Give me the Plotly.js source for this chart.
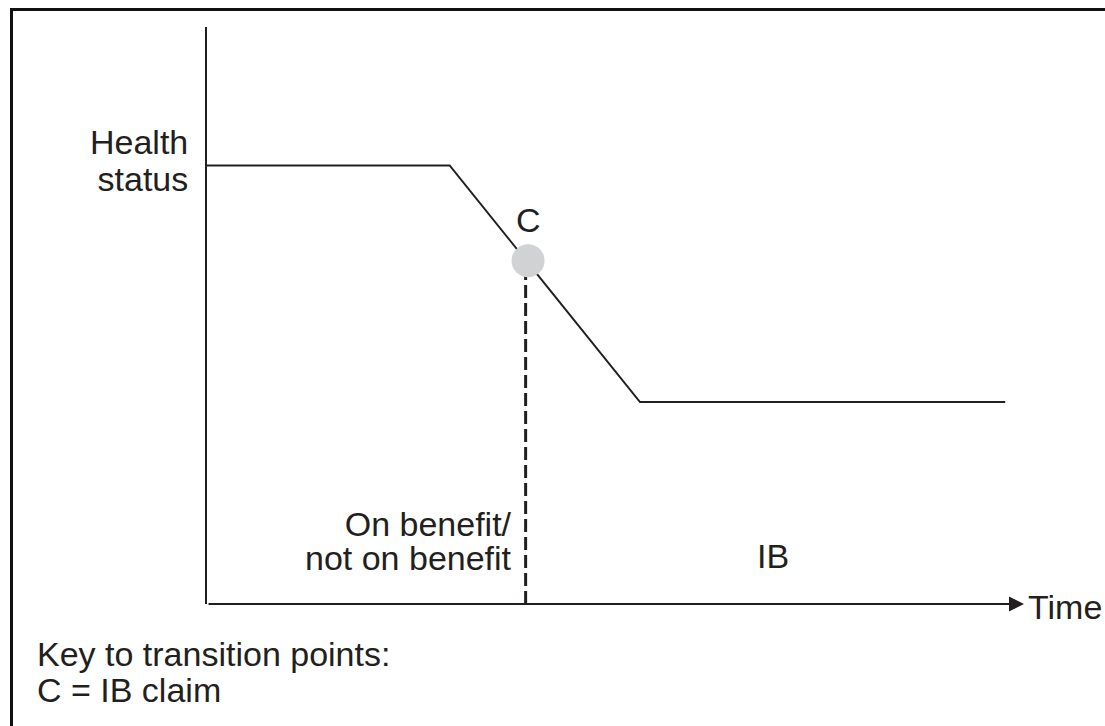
<!DOCTYPE html>
<html>
<head>
<meta charset="utf-8">
<script src="https://cdn.plot.ly/plotly-3.0.1.min.js"></script>
<style>
  html, body { margin: 0; padding: 0; background: #fff; overflow: hidden; }
  #wrap { position: relative; width: 1105px; height: 726px; }
  #chart { position: absolute; left: 0; top: 0; width: 1105px; height: 726px; }
  #frame { position: absolute; left: 10px; top: 8px; width: 1200px; height: 800px;
           border-left: 3px solid #111; border-top: 3px solid #111; pointer-events: none; }
</style>
</head>
<body>
<div id="wrap">
  <div id="chart"></div>
  <div id="frame"></div>
</div>
<script>
// Conceptual data (time vs health status)
const timePoints    = [0, 2.97, 5.3, 9.77];
const healthValues  = [7.6, 7.6, 3.5, 3.5];
const claimTime     = [3.93];
const claimHealth   = [5.95];
const claimLabel    = ['C'];
const dividerTime   = [3.9, 3.9];
const dividerHealth = [0, 5.7];

const ink = '#231f20';
const fontFam = '"Liberation Sans", Arial, sans-serif';
const GLYPH = 34;

function big(s) {
  return s.split('<br>').map(l => '<span style="font-size:' + GLYPH + 'px">' + l + '</span>').join('<br>');
}

const traces = [
  {x: dividerTime, y: dividerHealth, mode: 'lines',
   line: {color: ink, width: 3, dash: '13px,5px'}, hoverinfo: 'skip'},
  {x: timePoints, y: healthValues, mode: 'lines',
   line: {color: ink, width: 2}, hoverinfo: 'skip'},
  {x: claimTime, y: claimHealth, mode: 'markers',
   marker: {size: 33, color: '#d1d2d4'}, hoverinfo: 'skip'}
];

function ann(text, x, y, xanchor, ref, baseSize) {
  return {text: big(text), x: x, y: y, xref: ref, yref: ref === 'x' ? 'y' : ref,
          showarrow: false, xanchor: xanchor, yanchor: 'middle',
          align: xanchor === 'center' ? 'center' : xanchor,
          font: {family: fontFam, size: baseSize || GLYPH, color: ink}};
}

const annotations = [
  // x-axis with arrow
  {x: 10, y: 0, ax: 0, ay: 0, xref: 'x', yref: 'y', axref: 'x', ayref: 'y',
   text: '', showarrow: true, arrowhead: 2, arrowsize: 1.5, arrowwidth: 2,
   arrowcolor: ink, standoff: 0, startstandoff: 0},
  ann('Health<br>status', -0.021, 0.768, 'right', 'paper', 28.5),
  ann(claimLabel[0], 3.94, 6.66, 'center', 'x'),
  ann('On benefit/<br>not on benefit', 3.76, 1.09, 'right', 'x', 26.5),
  ann('IB', 6.93, 0.83, 'center', 'x'),
  ann('Time', 1.002, -0.005, 'left', 'paper'),
  ann('Key to transition points:<br>C = IB claim', -0.2105, -0.118, 'left', 'paper', 27.5)
];

const layout = {
  width: 1105, height: 726,
  margin: {l: 207, r: 81, t: 27, b: 122, pad: 0},
  paper_bgcolor: '#fff', plot_bgcolor: 'rgba(0,0,0,0)',
  showlegend: false,
  xaxis: {range: [0, 10], showgrid: false, zeroline: false, showline: false,
          showticklabels: false, ticks: '', fixedrange: true},
  yaxis: {range: [0, 10], showgrid: false, zeroline: false, showline: true,
          linecolor: ink, linewidth: 2, mirror: false,
          showticklabels: false, ticks: '', fixedrange: true},
  annotations: annotations
};

Plotly.newPlot('chart', traces, layout, {displayModeBar: false, staticPlot: true});
</script>
</body>
</html>
